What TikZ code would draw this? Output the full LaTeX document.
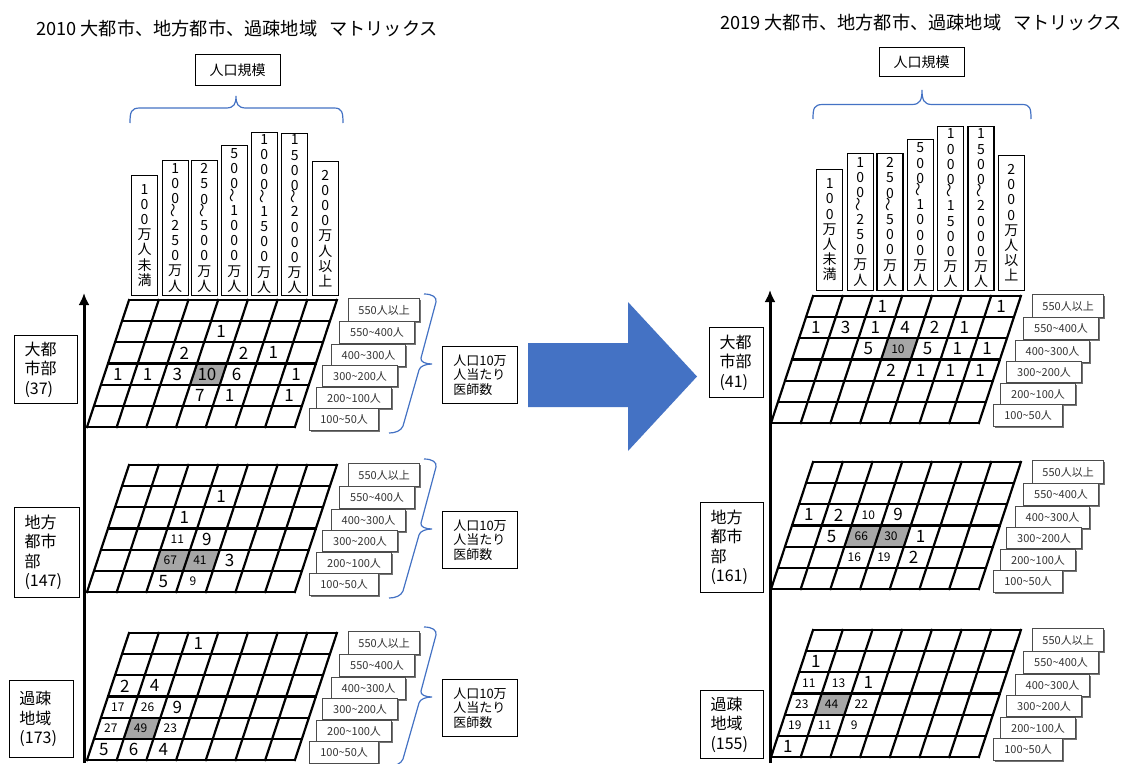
\documentclass[tikz,border=0pt]{standalone}
\usepackage{fontspec}
\setmainfont{Noto Sans CJK JP}
\usepackage{graphicx}
\usetikzlibrary{shadows,arrows.meta}
\definecolor{braceblue}{HTML}{4472C4}
\definecolor{arrowblue}{HTML}{4472C4}
\definecolor{shadecol}{HTML}{A6A6A6}
\newcommand{\wv}{\rotatebox{90}{～}}
\newcommand{\shadecell}[2]{\fill[shadecol] (#1,#2) -- ++(1,0) -- ++(0,1) -- ++(-1,0) -- cycle;}
\newcommand{\drawgrid}{%
  \foreach \r in {0,...,6} {\draw[gridline] (0,\r) -- (7,\r);}
  \foreach \c in {0,...,7} {\draw[gridline] (\c,0) -- (\c,6);}}
\newcommand{\nb}[4]{\node[big] (#1) at ({#2+0.45},{#3+0.5}) {#4};}
\newcommand{\ns}[4]{\node[small] (#1) at ({#2+0.45},{#3+0.5}) {#4};}
\newcommand{\rowlabels}[1]{%
  \node[lbl, minimum width=71pt, minimum height=23pt] (#1r1) at (219,-2) {550人以上};
  \node[lbl, minimum width=75pt, minimum height=22pt] (#1r2) at (210,21) {550\textasciitilde400人};
  \node[lbl, minimum width=74pt, minimum height=22pt] (#1r3) at (202,44) {400\textasciitilde300人};
  \node[lbl, minimum width=75pt, minimum height=21pt] (#1r4) at (193,65) {300\textasciitilde200人};
  \node[lbl, minimum width=75pt, minimum height=21pt] (#1r5) at (187,87) {200\textasciitilde100人};
  \node[lbl, minimum width=69pt, minimum height=22pt] (#1r6) at (180,108) {100\textasciitilde50人};}
\newcommand{\docbrace}[1]{%
  \draw[bluebrace] (295,-6) .. controls (303,-6) and (308,-3) .. (307,2) -- (292,58)
    .. controls (291,62) and (297,64) .. (303,64) .. controls (297,64) and (291,66) .. (290,70)
    -- (274,126) .. controls (272,131) and (266,133) .. (260,133);
  \node[doc] (#1doc) at (313,46) {人口10万\\人当たり\\医師数};}
\begin{document}
\begin{tikzpicture}[x=1pt,y=-1pt,
  gv/.style={x={(29.7pt,0pt)}, y={(-7pt,-21.17pt)}},
  gridline/.style={line width=2.2pt, line cap=rect},
  big/.style={font=\fontsize{17}{17}\selectfont, inner sep=0pt},
  small/.style={font=\fontsize{12}{12}\selectfont, inner sep=0pt},
  hdr/.style={draw, line width=1.3pt, fill=white, minimum width=26pt, inner sep=0pt, anchor=south, align=center, font=\fontsize{14}{15.2}\selectfont},
  lbl/.style={draw=black!70, line width=1.2pt, fill=white, inner sep=0pt, anchor=north west, font=\fontsize{11}{11}\selectfont, text=black!80, drop shadow={shadow xshift=1pt, shadow yshift=-1pt, fill=black!55, opacity=1}},
  doc/.style={draw, line width=1pt, anchor=north west, align=left, minimum width=75pt, minimum height=57pt, inner sep=0pt, font=\fontsize{13}{14.5}\selectfont},
  cat/.style={draw, line width=1pt, anchor=north west, align=left, inner xsep=10pt, inner ysep=0pt, font=\fontsize{16}{19.5}\selectfont},
  bluebrace/.style={draw=braceblue, line width=1.2pt},
  ttl/.style={anchor=west, inner sep=0pt, font=\fontsize{18.2}{20}\selectfont},
  boxt/.style={draw, line width=1pt, minimum width=85pt, inner sep=0pt, font=\fontsize{14}{14}\selectfont}
]
\useasboundingbox[fill=white] (0,0) rectangle (1129,763);

% titles
\node[ttl] (title1) at (36,28.5) {2010 大都市、地方都市、過疎地域\hspace{12pt}マトリックス};
\node[ttl] (title2) at (720,22.7) {2019 大都市、地方都市、過疎地域\hspace{12pt}マトリックス};

% population scale boxes and braces
\node[boxt, minimum height=31pt] (popL) at (237.5,70) {人口規模};
\node[boxt, minimum height=29pt] (popR) at (921.5,62.3) {人口規模};
\draw[bluebrace] (130,123) .. controls (130,112) and (131,108) .. (140,108) -- (226,108)
  .. controls (234,108) and (236,104) .. (236,96) .. controls (236,104) and (238,108) .. (246,108)
  -- (334,108) .. controls (342,108) and (343,112) .. (343,123);
\draw[bluebrace] (813,119) .. controls (813,108) and (814,104.5) .. (823,104.5) -- (912,104.5)
  .. controls (920,104.5) and (922,100) .. (922,90) .. controls (922,100) and (924,104.5) .. (932,104.5)
  -- (1022,104.5) .. controls (1030,104.5) and (1031,108) .. (1031,119);

% column headers left
\node[hdr, minimum height=120pt] (LH1) at (144.5,296) {1\\0\\0\\万\\人\\未\\満};
\node[hdr, minimum height=135pt] (LH2) at (175.2,296) {1\\0\\0\\[-2pt]\wv\\[-2pt]2\\5\\0\\万\\人};
\node[hdr, minimum height=135pt] (LH3) at (204.3,296) {2\\5\\0\\[-2pt]\wv\\[-2pt]5\\0\\0\\万\\人};
\node[hdr, minimum height=150pt] (LH4) at (234.3,296) {5\\0\\0\\[-2pt]\wv\\[-2pt]1\\0\\0\\0\\万\\人};
\node[hdr, minimum height=163pt] (LH5) at (264.2,296) {1\\0\\0\\0\\[-2pt]\wv\\[-2pt]1\\5\\0\\0\\万\\人};
\node[hdr, minimum height=162pt] (LH6) at (294.7,296) {1\\5\\0\\0\\[-2pt]\wv\\[-2pt]2\\0\\0\\0\\万\\人};
\node[hdr, minimum height=134pt] (LH7) at (325.3,296) {2\\0\\0\\0\\万\\人\\以\\上};
% column headers right
\node[hdr, minimum height=121pt] (RH1) at (829.7,291) {1\\0\\0\\万\\人\\未\\満};
\node[hdr, minimum height=137pt] (RH2) at (860.3,291) {1\\0\\0\\[-2pt]\wv\\[-2pt]2\\5\\0\\万\\人};
\node[hdr, minimum height=137pt] (RH3) at (890,291) {2\\5\\0\\[-2pt]\wv\\[-2pt]5\\0\\0\\万\\人};
\node[hdr, minimum height=151pt] (RH4) at (920.3,291) {5\\0\\0\\[-2pt]\wv\\[-2pt]1\\0\\0\\0\\万\\人};
\node[hdr, minimum height=164pt] (RH5) at (950.7,291) {1\\0\\0\\0\\[-2pt]\wv\\[-2pt]1\\5\\0\\0\\万\\人};
\node[hdr, minimum height=164pt] (RH6) at (981,291) {1\\5\\0\\0\\[-2pt]\wv\\[-2pt]2\\0\\0\\0\\万\\人};
\node[hdr, minimum height=135pt] (RH7) at (1011.3,291) {2\\0\\0\\0\\万\\人\\以\\上};

% axes
\coordinate (axL0) at (84,763); \coordinate (axL1) at (84,293);
\coordinate (axR0) at (770,763); \coordinate (axR1) at (770,290);
\draw[line width=3pt, -{Latex[length=12pt,width=11pt]}] (axL0) -- (axL1);
\draw[line width=3pt, -{Latex[length=12pt,width=11pt]}] (axR0) -- (axR1);

% category boxes
\node[cat, text width=43pt, minimum height=68pt] (catL1) at (14,335) {大都\\市部\\(37)};
\node[cat, text width=45pt, minimum height=90pt] (catL2) at (14,507) {地方\\都市\\部\\(147)};
\node[cat, text width=44pt, minimum height=77pt] (catL3) at (9,680) {過疎\\地域\\(173)};
\node[cat, text width=34pt, minimum height=70pt] (catR1) at (709,327) {大都\\市部\\(41)};
\node[cat, text width=43pt, minimum height=90pt] (catR2) at (700,502) {地方\\都市\\部\\(161)};
\node[cat, text width=43pt, minimum height=68pt] (catR3) at (700,690) {過疎\\地域\\(155)};

% big arrow
\fill[arrowblue] (528,343) -- (628,343) -- (628,302) -- (697,376.5) -- (628,451) -- (628,407) -- (528,407) -- cycle;

% ---------- Left top: 2010 大都市部
\begin{scope}[shift={(129pt,-300pt)}]
 \begin{scope}[gv]
  \shadecell{3}{3}
  \drawgrid
  \nb{LT1}{3}{1}{1}
  \nb{LT2}{2}{2}{2} \nb{LT3}{4}{2}{2} \nb{LT4}{5}{2}{1}
  \nb{LT5}{0}{3}{1} \nb{LT6}{1}{3}{1} \nb{LT7}{2}{3}{3} \nb{LT8}{3}{3}{10} \nb{LT9}{4}{3}{6} \nb{LT10}{6}{3}{1}
  \nb{LT11}{3}{4}{7} \nb{LT12}{4}{4}{1} \nb{LT13}{6}{4}{1}
 \end{scope}
 \rowlabels{LT}
 \docbrace{LT}
\end{scope}

% ---------- Left middle: 2010 地方都市部
\begin{scope}[shift={(129pt,-465pt)}]
 \begin{scope}[gv]
  \shadecell{2}{4} \shadecell{3}{4}
  \drawgrid
  \nb{LM1}{3}{1}{1}
  \nb{LM2}{2}{2}{1}
  \ns{LM3}{2}{3}{11} \nb{LM4}{3}{3}{9}
  \ns{LM5}{2}{4}{67} \ns{LM6}{3}{4}{41} \nb{LM7}{4}{4}{3}
  \nb{LM8}{2}{5}{5} \ns{LM9}{3}{5}{9}
 \end{scope}
 \rowlabels{LM}
 \docbrace{LM}
\end{scope}

% ---------- Left bottom: 2010 過疎地域
\begin{scope}[shift={(129pt,-633pt)}]
 \begin{scope}[gv]
  \shadecell{1}{4}
  \drawgrid
  \nb{LB1}{2}{0}{1}
  \nb{LB2}{0}{2}{2} \nb{LB3}{1}{2}{4}
  \ns{LB4}{0}{3}{17} \ns{LB5}{1}{3}{26} \nb{LB6}{2}{3}{9}
  \ns{LB7}{0}{4}{27} \ns{LB8}{1}{4}{49} \ns{LB9}{2}{4}{23}
  \nb{LB10}{0}{5}{5} \nb{LB11}{1}{5}{6} \nb{LB12}{2}{5}{4}
 \end{scope}
 \rowlabels{LB}
 \docbrace{LB}
\end{scope}

% ---------- Right top: 2019 大都市部
\begin{scope}[shift={(813pt,-296pt)}]
 \begin{scope}[gv]
  \shadecell{3}{2}
  \drawgrid
  \nb{RT1}{2}{0}{1} \nb{RT2}{6}{0}{1}
  \nb{RT3}{0}{1}{1} \nb{RT4}{1}{1}{3} \nb{RT5}{2}{1}{1} \nb{RT6}{3}{1}{4} \nb{RT7}{4}{1}{2} \nb{RT8}{5}{1}{1}
  \nb{RT9}{2}{2}{5} \ns{RT10}{3}{2}{10} \nb{RT11}{4}{2}{5} \nb{RT12}{5}{2}{1} \nb{RT13}{6}{2}{1}
  \nb{RT14}{3}{3}{2} \nb{RT15}{4}{3}{1} \nb{RT16}{5}{3}{1} \nb{RT17}{6}{3}{1}
 \end{scope}
 \rowlabels{RT}
\end{scope}

% ---------- Right middle: 2019 地方都市部
\begin{scope}[shift={(813pt,-462pt)}]
 \begin{scope}[gv]
  \shadecell{2}{3} \shadecell{3}{3}
  \drawgrid
  \nb{RM1}{0}{2}{1} \nb{RM2}{1}{2}{2} \ns{RM3}{2}{2}{10} \nb{RM4}{3}{2}{9}
  \nb{RM5}{1}{3}{5} \ns{RM6}{2}{3}{66} \ns{RM7}{3}{3}{30} \nb{RM8}{4}{3}{1}
  \ns{RM9}{2}{4}{16} \ns{RM10}{3}{4}{19} \nb{RM11}{4}{4}{2}
 \end{scope}
 \rowlabels{RM}
\end{scope}

% ---------- Right bottom: 2019 過疎地域
\begin{scope}[shift={(813pt,-630pt)}]
 \begin{scope}[gv]
  \shadecell{1}{3}
  \drawgrid
  \nb{RB1}{0}{1}{1}
  \ns{RB2}{0}{2}{11} \ns{RB3}{1}{2}{13} \nb{RB4}{2}{2}{1}
  \ns{RB5}{0}{3}{23} \ns{RB6}{1}{3}{44} \ns{RB7}{2}{3}{22}
  \ns{RB8}{0}{4}{19} \ns{RB9}{1}{4}{11} \ns{RB10}{2}{4}{9}
  \nb{RB11}{0}{5}{1}
 \end{scope}
 \rowlabels{RB}
\end{scope}
\end{tikzpicture}
\end{document}
